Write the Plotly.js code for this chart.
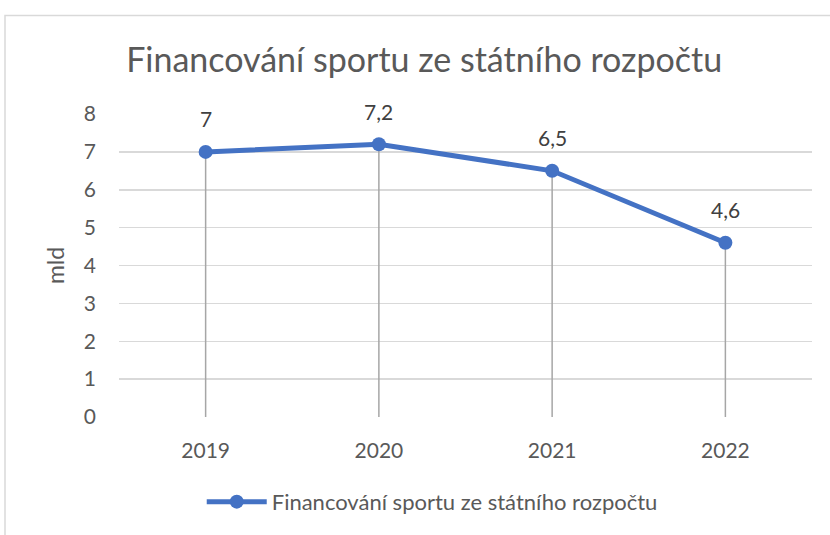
<!DOCTYPE html>
<html><head><meta charset="utf-8">
<script src="https://cdn.plot.ly/plotly-3.0.1.min.js"></script>
<style>body{margin:0;background:#fff}#c{width:830px;height:535px}</style>
</head><body><div id="c"></div>
<script>
const categories = ['2019', '2020', '2021', '2022'];
const values = [7, 7.2, 6.5, 4.6];
const seriesName = 'Financování sportu ze státního rozpočtu';
const chartTitle = 'Financování sportu ze státního rozpočtu';
const yTitle = 'mld';
const yTicks = [0, 1, 2, 3, 4, 5, 6, 7, 8];

const FONT = 'Lato, "Open Sans", sans-serif';
const xIdx = categories.map((c, i) => i);

const traces = [
  {x: xIdx, y: values, name: seriesName, mode: 'lines+markers',
   line: {color: '#4472C4', width: 5}, marker: {color: '#4472C4', size: 14},
   error_y: {type: 'data', symmetric: false, array: values.map(() => 0), arrayminus: values,
             color: '#a6a6a6', thickness: 1.5, width: 0}}
];
const annotations = xIdx.map((xi, i) => ({
  x: xi, y: values[i], xref: 'x', yref: 'y', text: String(values[i]).replace('.', ','),
  showarrow: false, yshift: 33, font: {family: FONT, size: 21, color: '#404040'}
}));
const layout = {
  width: 830, height: 535,
  margin: {l: 119, r: 18, t: 114, b: 114},
  paper_bgcolor: '#fff', plot_bgcolor: '#fff',
  separators: ',.',
  font: {family: FONT, color: '#595959', size: 21},
  title: {text: chartTitle, font: {family: FONT, size: 34, color: '#595959'}, x: 0.511, xanchor: 'center', y: 0.888, yanchor: 'middle'},
  xaxis: {type: 'linear', range: [-0.5, categories.length - 0.5], tickvals: xIdx, ticktext: categories,
          showgrid: false, zeroline: false, showline: false, ticks: '',
          tickfont: {size: 21, color: '#595959'}, ticklabelstandoff: 19},
  yaxis: {range: [0, 8], tickvals: yTicks, showgrid: true, gridcolor: '#d9d9d9', gridwidth: 1.5,
          zeroline: false, showline: false, ticks: '', tickfont: {size: 21, color: '#595959'},
          ticklabelstandoff: 22,
          title: {text: yTitle, font: {size: 23, color: '#595959'}, standoff: 12}},
  showlegend: true,
  legend: {orientation: 'h', x: 0.452, xanchor: 'center', y: -0.28, yanchor: 'middle',
           font: {size: 22, color: '#595959'}, itemwidth: 60},
  annotations: annotations,
  shapes: [{type: 'rect', xref: 'paper', yref: 'paper', x0: -0.1645, x1: 1.3, y0: -0.6, y1: 1.325,
            line: {color: '#d9d9d9', width: 1.5}, fillcolor: 'rgba(0,0,0,0)', layer: 'below'}]
};
Plotly.newPlot('c', traces, layout, {displayModeBar: false, staticPlot: true});
</script></body></html>
